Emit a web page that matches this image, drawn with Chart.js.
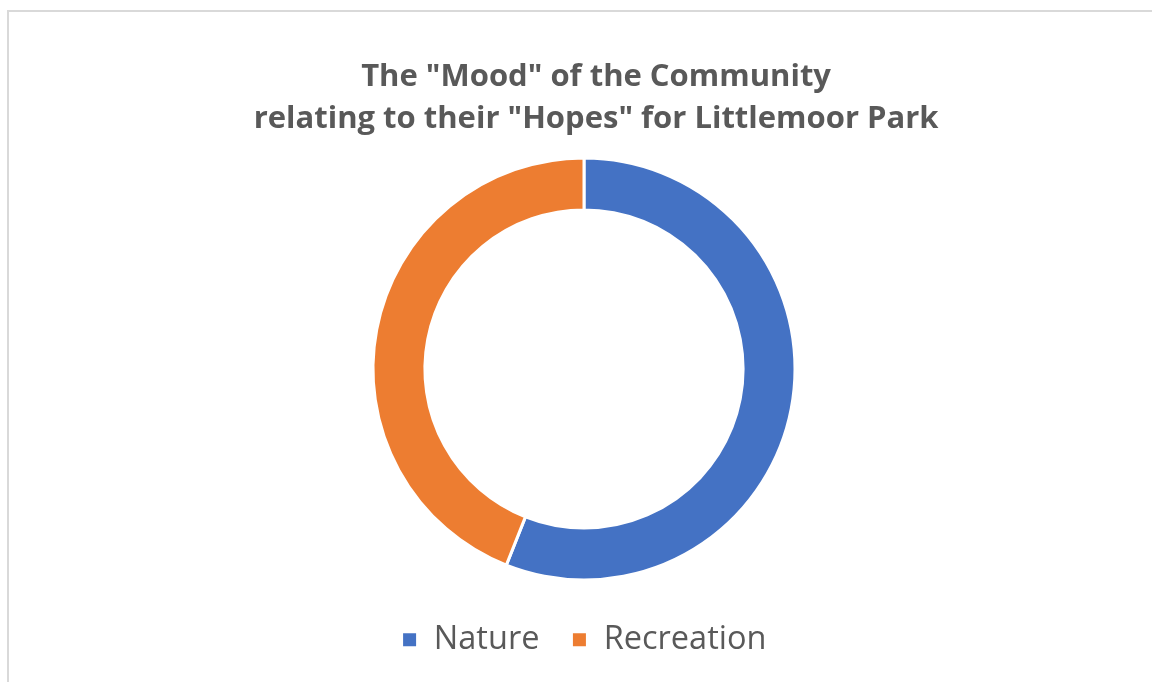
<!DOCTYPE html>
<html>
<head>
<meta charset="utf-8">
<script src="https://cdn.jsdelivr.net/npm/chart.js@4"></script>
<style>
  html, body { margin: 0; padding: 0; background: #fff; overflow: hidden; }
  .frame {
    position: absolute; left: 7px; top: 10px; width: 1200px; height: 700px;
    border-left: 2px solid #d9d9d9; border-top: 2px solid #d9d9d9;
  }
  #moodChart { position: absolute; left: 0; top: 0; }
</style>
</head>
<body>
<div class="frame"></div>
<canvas id="moodChart" width="1152" height="682"></canvas>
<script>
// chart data
const categories = ['Nature', 'Recreation'];
const moodValues = [56, 44];
const seriesColors = ['#4472C4', '#ED7D31'];
// leading spaces nudge the centred title a little to the right, as in the original
const titleLines = ['   The "Mood" of the Community', '   relating to their "Hopes" for Littlemoor Park'];

document.addEventListener('DOMContentLoaded', () => {
    const ctx = document.getElementById('moodChart').getContext('2d');

    new Chart(ctx, {
        type: 'doughnut',
        data: {
            labels: categories,
            datasets: [{
                data: moodValues,
                backgroundColor: seriesColors,
                borderColor: '#ffffff',
                borderWidth: 3,
                radius: 211,
                cutout: '75.4%'
            }]
        },
        options: {
            responsive: false,
            animation: false,
            layout: {
                padding: { top: 40, left: 16, right: 0, bottom: 16 }
            },
            plugins: {
                title: {
                    display: true,
                    text: titleLines,
                    color: '#595959',
                    font: { family: '"Open Sans"', size: 31, weight: 'bold', lineHeight: 1.33 },
                    padding: { top: 17, bottom: 7 }
                },
                legend: {
                    position: 'bottom',
                    labels: {
                        color: '#595959',
                        font: { family: '"Open Sans"', size: 32.5 },
                        boxWidth: 16,
                        boxHeight: 16,
                        padding: 32
                    }
                },
                tooltip: { enabled: false }
            }
        }
    });
});
</script>
</body>
</html>
